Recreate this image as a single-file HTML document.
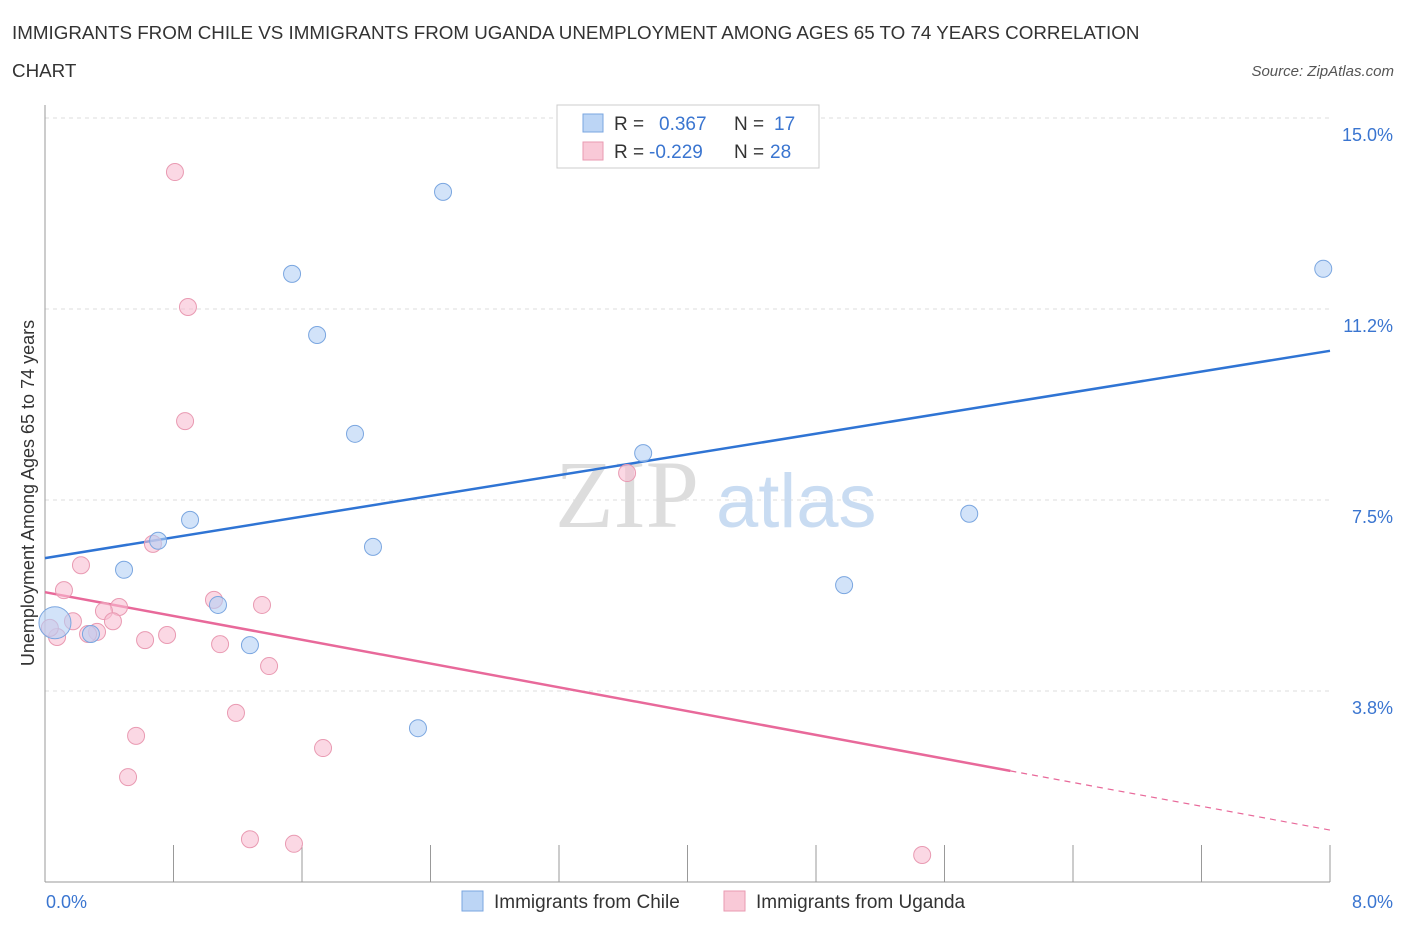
<!DOCTYPE html>
<html><head><meta charset="utf-8"><style>
body{margin:0;width:1406px;height:930px;background:#fff;font-family:"Liberation Sans",sans-serif;overflow:hidden}
</style></head><body>
<svg width="1406" height="930" xmlns="http://www.w3.org/2000/svg">
<text x="12" y="39" font-size="18.8" fill="#333">IMMIGRANTS FROM CHILE VS IMMIGRANTS FROM UGANDA UNEMPLOYMENT AMONG AGES 65 TO 74 YEARS CORRELATION</text>
<text x="12" y="77" font-size="18.8" fill="#333">CHART</text>
<text x="1394" y="76" font-size="15" fill="#555" font-style="italic" text-anchor="end">Source: ZipAtlas.com</text>
<g id="grid"></g>
<text x="555" y="527" font-size="96" fill="#ddd" font-family="Liberation Serif">ZIP</text>
<text x="716" y="527" font-size="76" fill="#c9dcf2">atlas</text>
<line x1="45" y1="105" x2="45" y2="882" stroke="#999"/>
<line x1="45" y1="882" x2="1330" y2="882" stroke="#999"/>
<g id="ticks"></g>
<g id="trend"></g>
<g id="pts"></g>
<text x="34" y="493" font-size="18" fill="#333" text-anchor="middle" transform="rotate(-90 34 493)">Unemployment Among Ages 65 to 74 years</text>
<text x="46" y="908" font-size="18" fill="#3a75d0">0.0%</text>
<text x="1393" y="908" font-size="18" fill="#3a75d0" text-anchor="end">8.0%</text>
<g>
<rect x="557" y="105" width="262" height="63" fill="#fff" stroke="#ccc"/>
<rect x="583" y="114" width="20" height="18" fill="#bcd5f5" stroke="#7aa6e0"/>
<rect x="583" y="142" width="20" height="18" fill="#f9c9d7" stroke="#e99ab2"/>
<text x="614" y="130" font-size="19" fill="#333">R = <tspan fill="#3a75d0" x="659">0.367</tspan><tspan x="734">N = </tspan><tspan fill="#3a75d0" x="774">17</tspan></text>
<text x="614" y="158" font-size="19" fill="#333">R = <tspan fill="#3a75d0" x="649">-0.229</tspan><tspan x="734">N = </tspan><tspan fill="#3a75d0" x="770">28</tspan></text>
</g>
<g>
<rect x="462" y="891" width="21" height="20" fill="#bcd5f5" stroke="#7aa6e0"/>
<text x="494" y="908" font-size="19" fill="#333">Immigrants from Chile</text></g>
<g>
<rect x="724" y="891" width="21" height="20" fill="#f9c9d7" stroke="#e99ab2"/>
<text x="756" y="908" font-size="19" fill="#333">Immigrants from Uganda</text></g>
</svg>
<script>
const yTicks=[15.0,11.25,7.5,3.75];
const yTickLabels=["15.0%","11.2%","7.5%","3.8%"];
const xTicks=[0,0.8,1.6,2.4,3.2,4.0,4.8,5.6,6.4,7.2,8.0];
const chileX=[2.478,1.538,1.694,7.958,1.93,3.724,0.903,5.754,0.704,2.042,0.492,4.975,1.077,0.286,1.276,0.062,2.322];
const chileY=[13.55,11.94,10.74,12.04,8.80,8.42,7.11,7.23,6.70,6.58,6.13,5.83,5.44,4.87,4.65,5.09,3.02];
const ugandaX=[0.809,0.890,0.872,3.624,0.672,0.224,0.118,1.052,1.351,0.461,0.367,0.174,0.423,0.324,0.268,0.760,0.623,0.075,1.090,1.395,1.189,0.567,1.731,0.517,1.276,1.550,5.461,0.03];
const ugandaY=[13.94,11.29,9.05,8.03,6.64,6.22,5.73,5.54,5.44,5.40,5.32,5.12,5.12,4.91,4.87,4.85,4.75,4.81,4.67,4.24,3.32,2.87,2.63,2.06,0.84,0.75,0.53,4.99];
const chileTrend=[6.36,10.43];
const ugandaTrend=[5.69,1.02];
const ugandaSolidEnd=6.01;
const NS="http://www.w3.org/2000/svg";
const X=v=>45+v/8*1285, Y=v=>882-v*50.93;
function mk(t,a,p){const e=document.createElementNS(NS,t);for(const k in a)e.setAttribute(k,a[k]);document.getElementById(p).appendChild(e);return e;}
yTicks.forEach((v,i)=>{
 const l=mk('line',{x1:45,x2:1330,y1:Y(v),y2:Y(v),stroke:'#ddd','stroke-dasharray':'4 4'},'grid');
 
 
 const t=mk('text',{x:1393,y:Y(v)+23,'font-size':18,fill:'#3a75d0','text-anchor':'end'},'grid');
 t.textContent=yTickLabels[i];
 
 
});
xTicks.forEach(v=>{
 const l=mk('line',{x1:X(v),x2:X(v),y1:845,y2:882,stroke:'#999'},'ticks');
 if(v===0)l.setAttribute('y1',882);
 
 
});
let b=mk('line',{x1:X(0),y1:Y(chileTrend[0]),x2:X(8),y2:Y(chileTrend[1]),stroke:'#2f74d4','stroke-width':2.5},'trend');


const uy=v=>ugandaTrend[0]+(ugandaTrend[1]-ugandaTrend[0])*v/8;
let p=mk('line',{x1:X(0),y1:Y(ugandaTrend[0]),x2:X(ugandaSolidEnd),y2:Y(uy(ugandaSolidEnd)),stroke:'#e8699a','stroke-width':2.5},'trend');


let pd=mk('line',{x1:X(ugandaSolidEnd),y1:Y(uy(ugandaSolidEnd)),x2:X(8),y2:Y(ugandaTrend[1]),stroke:'#e8699a','stroke-width':1.2,'stroke-dasharray':'6 5'},'trend');


ugandaX.forEach((v,i)=>{
 const c=mk('circle',{cx:X(v),cy:Y(ugandaY[i]),r:8.5,fill:'rgba(249,190,210,0.6)',stroke:'#e99ab2','stroke-width':1},'pts');
 
 
});
chileX.forEach((v,i)=>{
 const c=mk('circle',{cx:X(v),cy:Y(chileY[i]),r:i===15?16:8.5,fill:'rgba(180,208,245,0.6)',stroke:'#7aa6e0','stroke-width':1},'pts');
 
 
});
</script>
</body></html>
